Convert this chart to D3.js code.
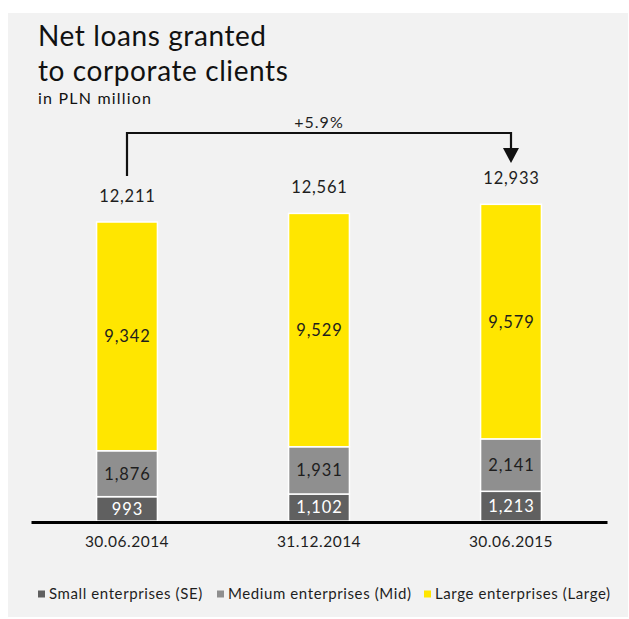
<!DOCTYPE html>
<html>
<head>
<meta charset="utf-8">
<script src="https://cdnjs.cloudflare.com/ajax/libs/d3/7.8.5/d3.min.js"></script>
<style>
  html, body { margin: 0; padding: 0; background: #ffffff; }
  svg { display: block; }
  text { font-family: Lato, "Open Sans", sans-serif; }
</style>
</head>
<body>
<svg id="chart" width="629" height="619"></svg>
<script>
// Net loans to corporate clients, PLN million
const periods = ["30.06.2014", "31.12.2014", "30.06.2015"];
const smallSE = [993, 1102, 1213];
const mediumMid = [1876, 1931, 2141];
const largeLarge = [9342, 9529, 9579];
const totals = [12211, 12561, 12933];
const growthLabel = "+5.9%";

const seriesKeys = ["small", "medium", "large"];
const seriesNames = ["Small enterprises (SE)", "Medium enterprises (Mid)", "Large enterprises (Large)"];
const seriesColors = ["#606060", "#8f8f8f", "#ffe600"];
const labelColors = ["#ffffff", "#1e1e1e", "#1e1e1e"];

const rows = periods.map((p, i) => ({
  period: p, small: smallSE[i], medium: mediumMid[i], large: largeLarge[i], total: totals[i]
}));

const svg = d3.select("#chart");

// panel background
svg.append("rect").attr("x", 8).attr("y", 13).attr("width", 620).attr("height", 604).attr("fill", "#f2f2f2");

// title
svg.append("text").attr("x", 38).attr("y", 46).attr("font-size", 28).attr("letter-spacing", 0.6)
  .attr("fill", "#111").text("Net loans granted");
svg.append("text").attr("x", 38).attr("y", 81).attr("font-size", 28).attr("letter-spacing", 0.6)
  .attr("fill", "#111").text("to corporate clients");
svg.append("text").attr("x", 38).attr("y", 104).attr("font-size", 16).attr("letter-spacing", 1.2)
  .attr("fill", "#111").text("in PLN million");

const baseY = 521;
const x = d3.scaleBand().domain(periods).range([31, 607]).paddingInner(0.683).paddingOuter(0.3415);
const y = d3.scaleLinear().domain([0, 12211]).range([baseY, 222]);

const stacked = d3.stack().keys(seriesKeys)(rows);

const layers = svg.append("g").selectAll("g").data(stacked).join("g")
  .attr("fill", (d, i) => seriesColors[i]);

layers.selectAll("rect").data(d => d).join("rect")
  .attr("x", d => x(d.data.period))
  .attr("y", d => y(d[1]))
  .attr("width", x.bandwidth())
  .attr("height", d => y(d[0]) - y(d[1]))
  .attr("stroke", "#ffffff")
  .attr("stroke-width", 1.5);

// segment value labels
const fmt = d3.format(",");
stacked.forEach((layer, li) => {
  svg.append("g").selectAll("text").data(layer).join("text")
    .attr("x", d => x(d.data.period) + x.bandwidth() / 2 + 0.5)
    .attr("y", d => (y(d[0]) + y(d[1])) / 2)
    .attr("dy", "0.36em")
    .attr("text-anchor", "middle")
    .attr("font-size", 16.5)
    .attr("letter-spacing", 0.9)
    .attr("fill", labelColors[li])
    .text(d => fmt(d[1] - d[0]));
});

// totals above bars
svg.append("g").selectAll("text").data(rows).join("text")
  .attr("x", d => x(d.period) + x.bandwidth() / 2 + 0.5)
  .attr("y", d => y(d.total) - 26)
  .attr("dy", "0.36em")
  .attr("text-anchor", "middle")
  .attr("font-size", 16.5)
  .attr("letter-spacing", 0.8)
  .attr("fill", "#1e1e1e")
  .text(d => fmt(d.total));

// x axis
const axis = svg.append("g").attr("transform", `translate(0,${baseY + 1})`)
  .call(d3.axisBottom(x).tickSize(0).tickPadding(14));
axis.select(".domain").attr("stroke", "#000").attr("stroke-width", 3);
axis.selectAll("text").attr("font-size", 15.5).attr("letter-spacing", 0.5).attr("fill", "#1e1e1e")
  .attr("font-family", "Lato, 'Open Sans', sans-serif");

// growth bracket from first to last period
const cx0 = x(periods[0]) + x.bandwidth() / 2;
const cx2 = x(periods[2]) + x.bandwidth() / 2;
const topY = 133;
const bracket = d3.path();
bracket.moveTo(cx0, y(totals[0]) - 46);
bracket.lineTo(cx0, topY);
bracket.lineTo(cx2, topY);
bracket.lineTo(cx2, 150);
svg.append("path").attr("d", bracket.toString()).attr("fill", "none")
  .attr("stroke", "#111").attr("stroke-width", 2.2);
const arrow = d3.path();
arrow.moveTo(cx2 - 8, 148);
arrow.lineTo(cx2 + 8, 148);
arrow.lineTo(cx2, 163);
arrow.closePath();
svg.append("path").attr("d", arrow.toString()).attr("fill", "#111");
svg.append("text").attr("x", (cx0 + cx2) / 2).attr("y", 122).attr("dy", "0.36em")
  .attr("text-anchor", "middle").attr("font-size", 16).attr("letter-spacing", 1)
  .attr("fill", "#1e1e1e").text(growthLabel);

// legend
const legendX = [38, 217, 424];
const legend = svg.append("g").selectAll("g").data(seriesNames).join("g")
  .attr("transform", (d, i) => `translate(${legendX[i]},594)`);
legend.append("rect").attr("x", 0).attr("y", -3.5).attr("width", 7).attr("height", 7)
  .attr("fill", (d, i) => seriesColors[i]);
legend.append("text").attr("x", 11).attr("dy", "0.36em").attr("font-size", 15).attr("letter-spacing", 0.6)
  .attr("fill", "#1e1e1e").text(d => d);
</script>
</body>
</html>
